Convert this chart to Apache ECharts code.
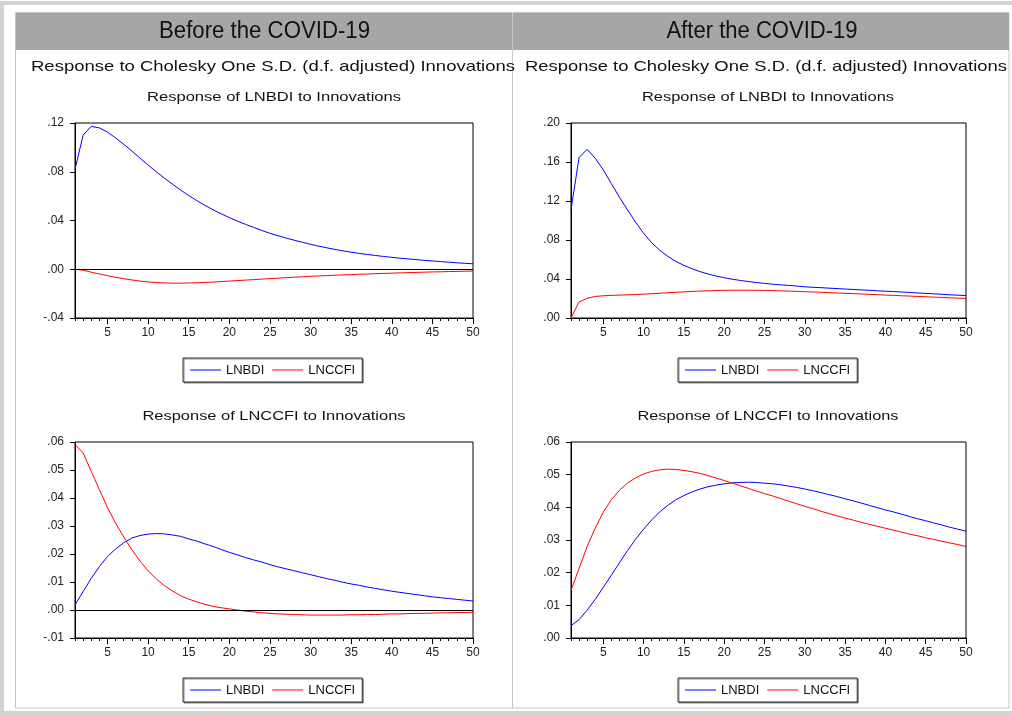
<!DOCTYPE html>
<html>
<head>
<meta charset="utf-8">
<script src="https://cdn.jsdelivr.net/npm/echarts@6/dist/echarts.min.js"></script>
<style>
html,body{margin:0;padding:0;background:#fff;}
#chart{width:1012px;height:715px;}
</style>
</head>
<body>
<div id="chart"></div>
<script>
// ---- data ----
const periods = [];
for (let p = 1; p <= 50; p++) periods.push(p);

const xLabelTicks = [5, 10, 15, 20, 25, 30, 35, 40, 45, 50];
const seriesNames = ['LNBDI', 'LNCCFI'];
const panelHeaders = ['Before the COVID-19', 'After the COVID-19'];
const mainTitle = 'Response to Cholesky One S.D. (d.f. adjusted) Innovations';
const panelTitles = ['Response of LNBDI to Innovations', 'Response of LNCCFI to Innovations'];

// Before: response of LNBDI
const beforeBdiToBdi = [
  .0820, .1100, .1172, .1160, .1125, .1078, .1025, .0970, .0912, .0855,
  .0800, .0748, .0698, .0650, .0605, .0563, .0524, .0488, .0455, .0424,
  .0395, .0368, .0343, .0318, .0295, .0275, .0256, .0238, .0221, .0205,
  .0190, .0176, .0163, .0151, .0140, .0130, .0121, .0113, .0105, .0098,
  .0091, .0085, .0079, .0073, .0068, .0063, .0058, .0053, .0049, .0045
];
const beforeBdiToCcfi = [
  0, -.0008, -.0024, -.0039, -.0053, -.0066, -.0078, -.0088, -.0097, -.0104,
  -.0109, -.0112, -.0114, -.0114, -.0113, -.0111, -.0108, -.0105, -.0101, -.0097,
  -.0093, -.0089, -.0085, -.0081, -.0077, -.0073, -.0069, -.0065, -.0062, -.0058,
  -.0055, -.0052, -.0049, -.0046, -.0044, -.0041, -.0039, -.0036, -.0034, -.0032,
  -.0030, -.0028, -.0026, -.0024, -.0022, -.0021, -.0019, -.0018, -.0016, -.0015
];
// Before: response of LNCCFI
const beforeCcfiToBdi = [
  .0018, .0066, .0113, .0155, .0191, .0218, .0240, .0257, .0266, .0271,
  .0273, .0272, .0268, .0263, .0254, .0246, .0236, .0227, .0216, .0206,
  .0197, .0187, .0179, .0171, .0162, .0154, .0147, .0140, .0133, .0126,
  .0119, .0112, .0106, .0099, .0093, .0088, .0082, .0077, .0072, .0067,
  .0063, .0059, .0055, .0051, .0047, .0044, .0041, .0038, .0035, .0032
];
const beforeCcfiToCcfi = [
  .0591, .0561, .0495, .0430, .0366, .0310, .0261, .0215, .0175, .0140,
  .0111, .0087, .0068, .0051, .0039, .0029, .0020, .0013, .0008, .0004,
  0, -.0004, -.0007, -.0010, -.0012, -.0014, -.0015, -.0016, -.0017, -.0018,
  -.0018, -.0018, -.0018, -.0018, -.0017, -.0017, -.0016, -.0016, -.0015, -.0014,
  -.0014, -.0013, -.0012, -.0012, -.0011, -.0010, -.0010, -.0009, -.0009, -.0008
];
// After: response of LNBDI
const afterBdiToBdi = [
  .1110, .1645, .1730, .1640, .1520, .1380, .1240, .1110, .0985, .0870,
  .0772, .0695, .0633, .0581, .0540, .0506, .0476, .0451, .0431, .0413,
  .0398, .0385, .0374, .0364, .0355, .0347, .0340, .0334, .0328, .0320,
  .0315, .0311, .0306, .0302, .0297, .0293, .0288, .0284, .0279, .0275,
  .0271, .0267, .0262, .0257, .0252, .0248, .0243, .0238, .0234, .0230
];
const afterBdiToCcfi = [
  0, .0164, .0202, .0221, .0228, .0232, .0235, .0238, .0241, .0245,
  .0249, .0254, .0259, .0264, .0268, .0272, .0276, .0279, .0282, .0284,
  .0285, .0285, .0285, .0284, .0283, .0281, .0279, .0276, .0273, .0270,
  .0267, .0264, .0260, .0257, .0253, .0250, .0246, .0243, .0239, .0235,
  .0232, .0228, .0225, .0221, .0218, .0214, .0211, .0207, .0204, .0200
];
// After: response of LNCCFI
const afterCcfiToBdi = [
  .0038, .0056, .0085, .0118, .0155, .0192, .0230, .0267, .0302, .0333,
  .0361, .0386, .0406, .0423, .0436, .0447, .0456, .0463, .0468, .0472,
  .0475, .0476, .0477, .0476, .0474, .0472, .0469, .0465, .0461, .0456,
  .0451, .0445, .0439, .0433, .0426, .0420, .0413, .0406, .0399, .0392,
  .0386, .0379, .0372, .0365, .0359, .0352, .0346, .0339, .0333, .0327
];
const afterCcfiToCcfi = [
  .0146, .0213, .0280, .0336, .0385, .0423, .0452, .0474, .0490, .0502,
  .0510, .0515, .0517, .0516, .0513, .0509, .0504, .0497, .0490, .0482,
  .0474, .0466, .0458, .0450, .0442, .0435, .0427, .0419, .0411, .0403,
  .0396, .0388, .0381, .0374, .0367, .0361, .0354, .0348, .0342, .0336,
  .0330, .0324, .0318, .0313, .0307, .0302, .0296, .0291, .0286, .0280
];

// y-axis ranges per panel
const yMin = [-0.04, 0, -0.01, 0];
const yMax = [0.12, 0.20, 0.06, 0.06];
const yInterval = [0.04, 0.04, 0.01, 0.01];

// ---- layout ----
const grids = [
  {left: 75, top: 123, width: 398, height: 195},
  {left: 571, top: 123, width: 395, height: 195},
  {left: 75, top: 442, width: 398, height: 196},
  {left: 571, top: 442, width: 395, height: 196}
];
const legendPos = [[183, 358], [678, 358], [183, 678], [678, 678]];
const panelData = [
  [beforeBdiToBdi, beforeBdiToCcfi],
  [afterBdiToBdi, afterBdiToCcfi],
  [beforeCcfiToBdi, beforeCcfiToCcfi],
  [afterCcfiToBdi, afterCcfiToCcfi]
];
const colors = ['#0000ff', '#ff0000'];
const FONT = '"Liberation Sans", Arial, sans-serif';

function fmt(v) {
  if (Math.abs(v) < 1e-9) return '.00';
  return v.toFixed(2).replace(/^(-?)0\./, '$1.');
}

const mctx = document.createElement('canvas').getContext('2d');
function fitScale(text, font, target) {
  mctx.font = font;
  const w = mctx.measureText(text).width;
  return w > 0 ? target / w : 1;
}

const xAxes = [], yAxes = [], series = [], legends = [];
grids.forEach((g, i) => {
  xAxes.push({
    type: 'value', gridIndex: i, min: 1, max: 50, position: 'bottom',
    axisLine: {show: true, onZero: false, lineStyle: {color: '#000', width: 1}},
    axisTick: {show: true, length: 6, customValues: xLabelTicks, lineStyle: {color: '#000'}},
    axisLabel: {customValues: xLabelTicks, fontSize: 12, fontFamily: FONT, color: '#222', margin: 9},
    splitLine: {show: false}
  });
  xAxes.push({
    type: 'value', gridIndex: i, min: 1, max: 50, position: 'bottom',
    axisLine: {show: false, onZero: false},
    axisTick: {show: true, length: 3, customValues: periods, lineStyle: {color: '#000'}},
    axisLabel: {show: false},
    splitLine: {show: false}
  });
  yAxes.push({
    type: 'value', gridIndex: i, min: yMin[i], max: yMax[i], interval: yInterval[i],
    axisLine: {show: true, onZero: false, lineStyle: {color: '#000', width: 1}},
    axisTick: {show: true, length: 5, lineStyle: {color: '#000'}},
    axisLabel: {formatter: fmt, fontSize: 12, fontFamily: FONT, color: '#222', margin: 11},
    splitLine: {show: false}
  });
  panelData[i].forEach((arr, k) => {
    const s = {
      type: 'line', name: seriesNames[k],
      xAxisIndex: i * 2, yAxisIndex: i,
      data: periods.map((p, j) => [p, arr[j]]),
      symbol: 'none', showSymbol: false,
      lineStyle: {color: colors[k], width: 1},
      itemStyle: {color: colors[k]},
      animation: false
    };
    if (k === 0 && yMin[i] < 0) {
      s.markLine = {
        silent: true, symbol: ['none', 'none'],
        label: {show: false},
        lineStyle: {color: '#000', width: 1, type: 'solid'},
        data: [{yAxis: 0}]
      };
    }
    series.push(s);
  });
  legends.push({
    left: legendPos[i][0], top: legendPos[i][1],
    data: seriesNames.map((n, k) => ({name: n, icon: 'rect', itemStyle: {color: colors[k]}})),
    backgroundColor: '#fff',
    borderColor: '#333', borderWidth: 1,
    shadowColor: 'rgba(0,0,0,0.45)', shadowOffsetX: 1, shadowOffsetY: 1, shadowBlur: 0,
    padding: [5, 7, 5, 7],
    itemWidth: 31, itemHeight: 1, itemGap: 8,
    selectedMode: false,
    textStyle: {fontSize: 13, fontFamily: FONT, color: '#111', lineHeight: 14}
  });
});

// ---- frame & texts ----
const headerFont = '23px "Liberation Sans Narrow", "Liberation Sans", Arial, sans-serif';
const mainFont = '15px ' + FONT;
const subFont = '13px ' + FONT;
function txt(text, font, cx, cy, targetW) {
  return {
    type: 'text', x: cx, y: cy, z: 10,
    scaleX: fitScale(text, font, targetW),
    style: {text: text, font: font, fill: '#111', align: 'center', verticalAlign: 'middle'}
  };
}
const graphics = [
  {type: 'rect', z: 0, shape: {x: 2, y: 3, width: 1012, height: 710},
   style: {fill: 'none', stroke: '#d2d2d2', lineWidth: 4}},
  {type: 'rect', z: 0, shape: {x: 15.5, y: 12.5, width: 993.5, height: 695.5},
   style: {fill: 'none', stroke: '#c4c4c4', lineWidth: 1}},
  {type: 'rect', z: 0, shape: {x: 16, y: 13, width: 993, height: 37},
   style: {fill: '#a6a6a6'}},
  {type: 'line', z: 1, shape: {x1: 512.5, y1: 13, x2: 512.5, y2: 708},
   style: {stroke: '#c8c8c8', lineWidth: 1}},
  txt(panelHeaders[0], headerFont, 264.5, 32, 211),
  txt(panelHeaders[1], headerFont, 762, 32, 191),
  txt(mainTitle, mainFont, 273, 67, 484),
  txt(mainTitle, mainFont, 766, 67, 482),
  txt(panelTitles[0], subFont, 274, 97, 254),
  txt(panelTitles[0], subFont, 768, 97, 252),
  txt(panelTitles[1], subFont, 274, 416, 263),
  txt(panelTitles[1], subFont, 768, 416, 261)
];

const chart = echarts.init(document.getElementById('chart'), null, {renderer: 'canvas'});
chart.setOption({
  animation: false,
  backgroundColor: '#fff',
  grid: grids.map(g => Object.assign({show: true, borderColor: '#000', borderWidth: 1, backgroundColor: 'transparent'}, g)),
  xAxis: xAxes,
  yAxis: yAxes,
  legend: legends,
  series: series,
  graphic: graphics
});
</script>
</body>
</html>
